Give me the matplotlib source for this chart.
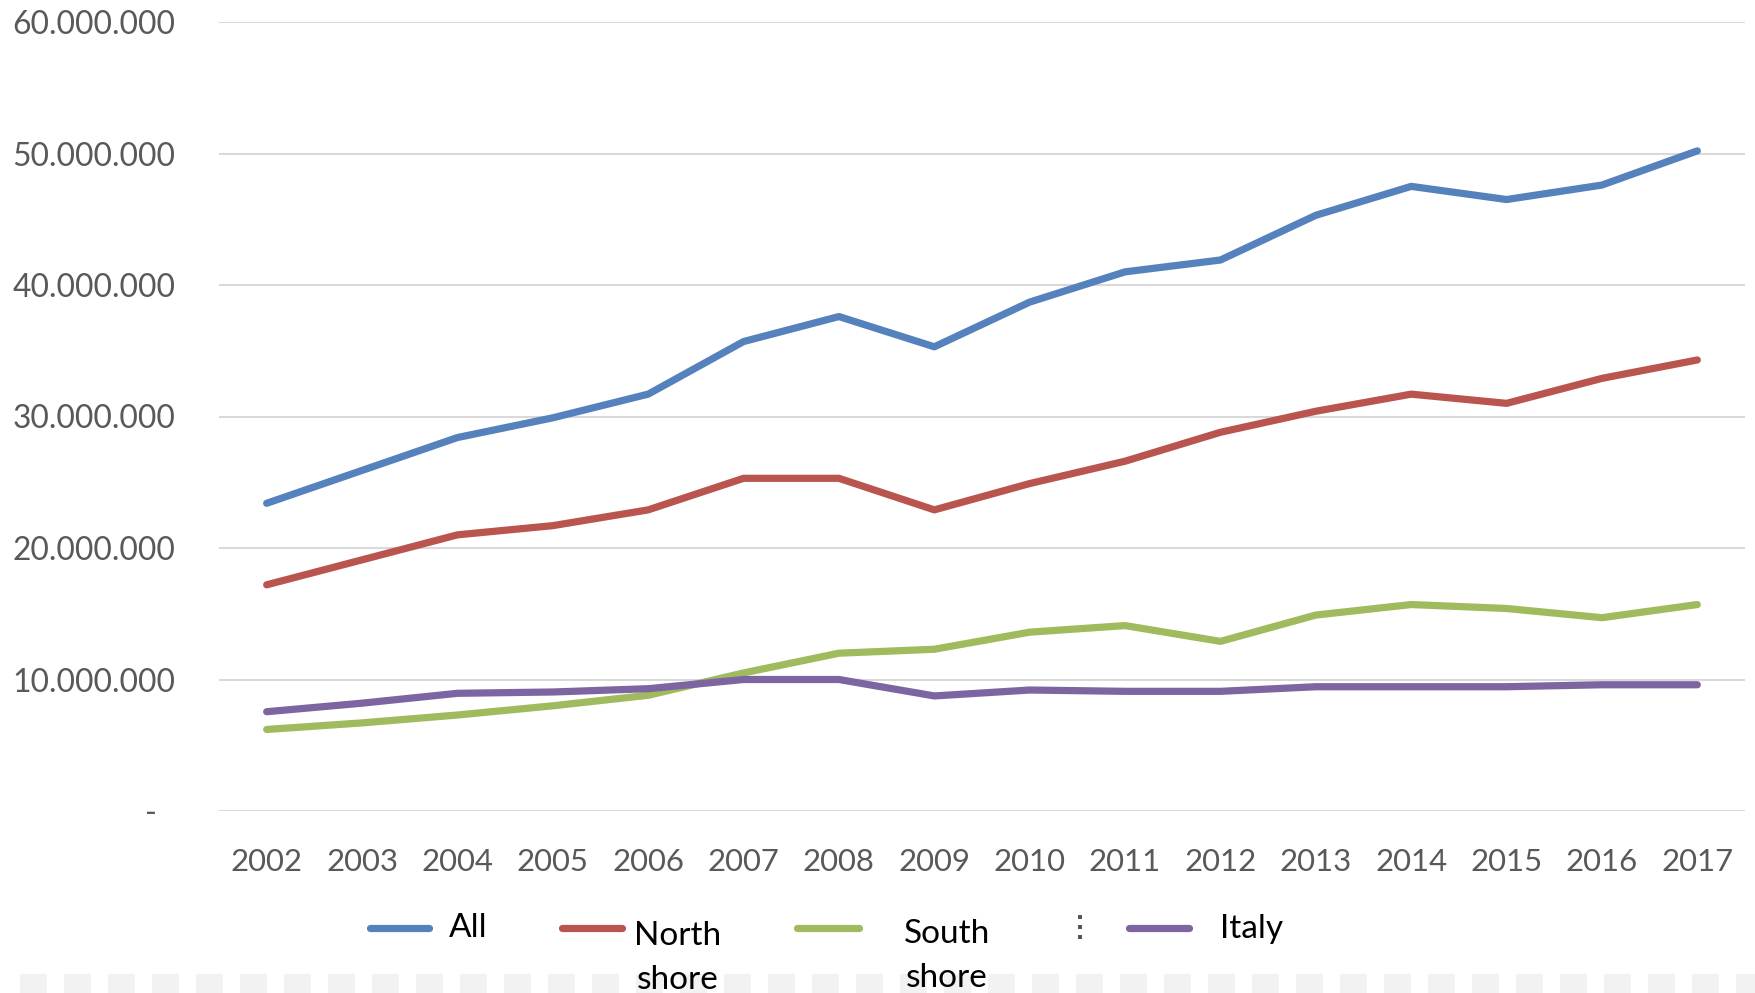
import matplotlib
matplotlib.use("Agg")
import matplotlib.pyplot as plt
from matplotlib.lines import Line2D
from matplotlib.patches import Rectangle
from matplotlib.ticker import FixedLocator, FuncFormatter
from matplotlib.transforms import ScaledTranslation

# ---- data -------------------------------------------------------------
years = ["2002", "2003", "2004", "2005", "2006", "2007", "2008", "2009",
         "2010", "2011", "2012", "2013", "2014", "2015", "2016", "2017"]

all_total = [23.4, 25.9, 28.4, 29.9, 31.7, 35.7, 37.6, 35.3,
             38.7, 41.0, 41.9, 45.3, 47.5, 46.5, 47.6, 50.2]
north_shore = [17.2, 19.1, 21.0, 21.7, 22.9, 25.3, 25.3, 22.9,
               24.9, 26.6, 28.8, 30.4, 31.7, 31.0, 32.9, 34.3]
south_shore = [6.2, 6.7, 7.3, 8.0, 8.8, 10.5, 12.0, 12.3,
               13.6, 14.1, 12.9, 14.9, 15.7, 15.4, 14.7, 15.7]
italy = [7.55, 8.2, 8.95, 9.05, 9.3, 10.0, 10.0, 8.75,
         9.2, 9.1, 9.1, 9.45, 9.45, 9.45, 9.6, 9.6]

series_names = ["All", "North shore", "South shore", "Italy"]
series_values = [all_total, north_shore, south_shore, italy]
series_colors = ["#5581BD", "#B9554E", "#A0BA5E", "#7D65A1"]

y_ticks = [0, 10, 20, 30, 40, 50, 60]          # millions
SCALE = 1_000_000

# ---- figure -----------------------------------------------------------
W, H = 1756, 993
DPI = 100
fig = plt.figure(figsize=(W / DPI, H / DPI), dpi=DPI, facecolor="white")


def fx(x):
    return x / W


def fy(y):
    return 1 - y / H


FONT = ["Lato", "DejaVu Sans"]
TICK_COLOR = "#595959"

ax_left, ax_right, ax_top, ax_bottom = 219, 1745, 22, 811
ax = fig.add_axes([fx(ax_left), fy(ax_bottom),
                   fx(ax_right) - fx(ax_left), fy(ax_top) - fy(ax_bottom)])

x = list(range(len(years)))
for vals, color, name in zip(series_values, series_colors, series_names):
    ax.plot(x, [v * SCALE for v in vals], color=color, lw=5.2,
            solid_capstyle="round", solid_joinstyle="round", label=name,
            zorder=3)

ax.set_xlim(-0.5, len(years) - 0.5)
ax.set_ylim(0, y_ticks[-1] * SCALE)

ax.yaxis.set_major_locator(FixedLocator([t * SCALE for t in y_ticks]))


def fmt_thousands(v, pos):
    if v == 0:
        return "-"
    return f"{int(round(v)):,}".replace(",", ".")


ax.yaxis.set_major_formatter(FuncFormatter(fmt_thousands))
ax.set_xticks(x)
ax.set_xticklabels(years)

ax.grid(axis="y", color="#D9D9D9", lw=1.45, zorder=0)
ax.set_axisbelow(True)
for s in ax.spines.values():
    s.set_visible(False)

ax.tick_params(axis="both", length=0, colors=TICK_COLOR)
ax.tick_params(axis="y", pad=31.5, labelsize=22.9)
ax.tick_params(axis="x", pad=26.5, labelsize=22.4)
for lab in ax.get_yticklabels() + ax.get_xticklabels():
    lab.set_family(FONT)
    lab.set_color(TICK_COLOR)

# the zero label is a dash that sits a little left of the others
zero_tick = ax.yaxis.get_major_ticks()[0]
zero_tick.label1.set_transform(zero_tick.label1.get_transform()
                               + ScaledTranslation(-18 / DPI, 0, fig.dpi_scale_trans))

# ---- legend (drawn below the plot) -------------------------------------
legend_layout = [
    # key start, key end, text x, first baseline, horizontal alignment
    (370, 429, 449, 937, "left"),
    (562, 622, 678, 945, "center"),
    (797, 859, 947, 943, "center"),
    (1129, 1189, 1220, 938, "left"),
]
key_y = 928
line_gap = 44

for name, color, (k0, k1, tx, ty, ha) in zip(series_names, series_colors, legend_layout):
    fig.add_artist(Line2D([fx(k0), fx(k1)], [fy(key_y), fy(key_y)],
                          transform=fig.transFigure, color=color, lw=5.2,
                          solid_capstyle="round"))
    for i, part in enumerate(name.split(" ")):
        fig.text(fx(tx), fy(ty + i * line_gap), part, ha=ha, va="baseline",
                 fontsize=24, family=FONT, color="#000000")

# small vertical dot separator
fig.add_artist(Line2D([fx(1080)] * 3, [fy(917), fy(927), fy(937)],
                      transform=fig.transFigure, ls="none", marker="s",
                      markersize=2.3, color="#555555", markeredgewidth=0))

# faint strip of light squares along the bottom edge
xs = 20
while xs < W:
    fig.add_artist(Rectangle((fx(xs), 0), 27 / W, 19 / H,
                             transform=fig.transFigure, facecolor="#F2F2F2",
                             edgecolor="none", zorder=-1))
    xs += 44

fig.savefig("out.png", dpi=DPI, facecolor="white")
